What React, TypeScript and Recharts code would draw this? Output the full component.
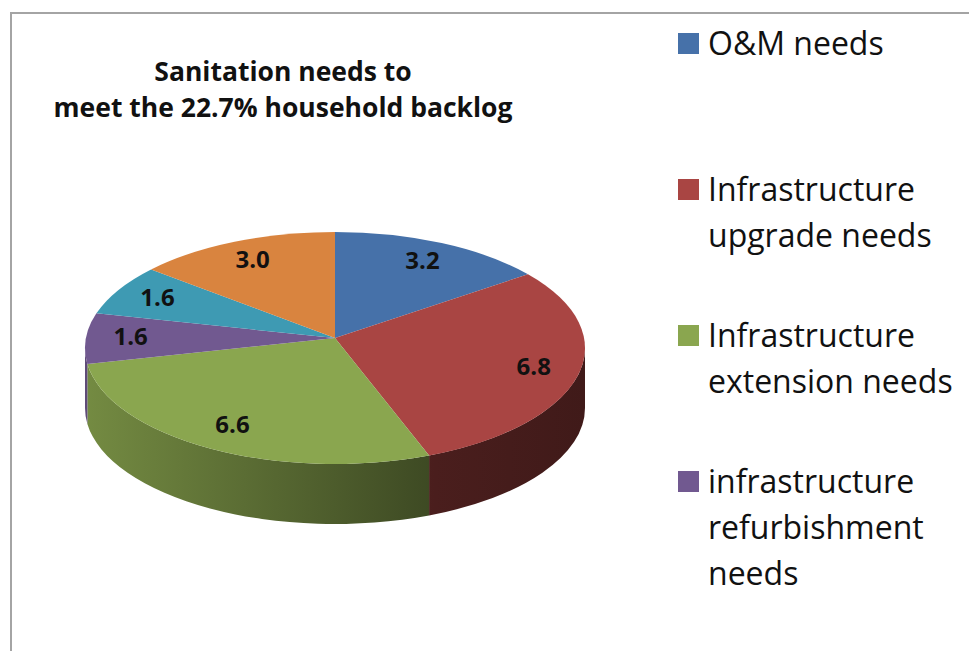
import React from 'react';
import { PieChart, Pie, Legend } from 'recharts';

const titleLines = ['Sanitation needs to', 'meet the 22.7% household backlog'];
const categories = [
  'O&M needs',
  'Infrastructure upgrade needs',
  'Infrastructure extension needs',
  'infrastructure refurbishment needs',
  'Series 5',
  'Series 6',
];
const values = [3.2, 6.8, 6.6, 1.6, 1.6, 3.0];
const colors = ['#4671A9', '#A94543', '#8AA64F', '#715990', '#3E9AB3', '#D9843F'];
const legendCount = 4;

const chartData = categories.map((name, i) => ({ name, value: values[i] }));

const TILT = 0.464;
const DEPTH = 60;
const APEX_LIFT = 10;
const FONT = '"Open Sans", "Noto Sans", sans-serif';

function shade(hex: string, k: number) {
  const n = parseInt(hex.slice(1), 16);
  const r = Math.round(((n >> 16) & 255) * k);
  const g = Math.round(((n >> 8) & 255) * k);
  const b = Math.round((n & 255) * k);
  return `rgb(${r},${g},${b})`;
}

const render3D = (props: any) => {
  const { cx, cy, outerRadius, startAngle, endAngle, index } = props;
  const rx = outerRadius;
  const ry = outerRadius * TILT;
  const pt = (deg: number, dy = 0) => {
    const r = (deg * Math.PI) / 180;
    return [cx + rx * Math.cos(r), cy - ry * Math.sin(r) + dy];
  };
  const s = Math.max(startAngle, endAngle);
  const e = Math.min(startAngle, endAngle);
  const large = s - e > 180 ? 1 : 0;
  const p1 = pt(s);
  const p2 = pt(e);
  const top = `M${cx},${cy - APEX_LIFT} L${p1[0]},${p1[1]} A${rx},${ry} 0 ${large} 1 ${p2[0]},${p2[1]} Z`;
  const a = Math.max(e, -180);
  const b = Math.min(s, 0);
  const color = colors[index];
  const gid = `side-grad-${index}`;
  let side: React.ReactNode = null;
  if (b > a) {
    const q1 = pt(b);
    const q2 = pt(a);
    const q3 = pt(a, DEPTH);
    const q4 = pt(b, DEPTH);
    const d = `M${q1[0]},${q1[1]} A${rx},${ry} 0 0 1 ${q2[0]},${q2[1]} L${q3[0]},${q3[1]} A${rx},${ry} 0 0 0 ${q4[0]},${q4[1]} Z`;
    side = <path d={d} fill={`url(#${gid})`} stroke="none" />;
  }
  return (
    <g key={`slice-${index}`}>
      <defs>
        <linearGradient id={gid} gradientUnits="userSpaceOnUse" x1={cx - rx} x2={cx + rx} y1={0} y2={0}>
          <stop offset="0" stopColor={shade(color, 0.84)} />
          <stop offset="0.7" stopColor={shade(color, 0.44)} />
          <stop offset="1" stopColor={shade(color, 0.38)} />
        </linearGradient>
      </defs>
      {side}
      <path d={top} fill={color} stroke="none" />
    </g>
  );
};

const renderValueLabel = (props: any) => {
  const { cx, cy, outerRadius, midAngle, index } = props;
  const r = (midAngle * Math.PI) / 180;
  const x = cx + 0.82 * outerRadius * Math.cos(r);
  const y = cy - APEX_LIFT / 2 - 0.8 * outerRadius * TILT * Math.sin(r);
  return (
    <text
      key={`lbl-${index}`}
      x={x}
      y={y}
      textAnchor="middle"
      dominantBaseline="central"
      fontFamily={FONT}
      fontWeight="bold"
      fontSize={24}
      fill="#111"
    >
      {values[index].toFixed(1)}
    </text>
  );
};

const renderLegend = () => (
  <div style={{ fontFamily: FONT }}>
    {categories.slice(0, legendCount).map((name, i) => (
      <div key={name} style={{ position: 'relative', height: 146 }}>
        <div
          style={{
            position: 'absolute',
            left: 0,
            top: 13,
            width: 21,
            height: 21,
            background: colors[i],
          }}
        />
        <div
          style={{
            position: 'absolute',
            left: 30,
            top: 0,
            width: 266,
            fontSize: 32,
            lineHeight: '46px',
            color: '#111',
          }}
        >
          {name}
        </div>
      </div>
    ))}
  </div>
);

export default function App() {
  return (
    <div
      style={{
        position: 'absolute',
        left: 0,
        top: 0,
        width: 969,
        height: 651,
        background: '#fff',
        overflow: 'hidden',
      }}
    >
      <div
        style={{
          position: 'absolute',
          left: 10,
          top: 12,
          width: 1000,
          height: 700,
          borderLeft: '2px solid #A4A4A4',
          borderTop: '2px solid #A4A4A4',
        }}
      />
      <div
        style={{
          position: 'absolute',
          left: 0,
          top: 53,
          width: 566,
          textAlign: 'center',
          fontFamily: FONT,
          fontWeight: 'bold',
          fontSize: 26.5,
          lineHeight: '36px',
          color: '#111',
        }}
      >
        {titleLines.map((t) => (
          <div key={t}>{t}</div>
        ))}
      </div>
      <div style={{ position: 'absolute', left: 0, top: 0 }}>
        <PieChart width={969} height={651} margin={{ top: 0, right: 0, bottom: 0, left: 0 }}>
          <Pie
            data={chartData}
            dataKey="value"
            nameKey="name"
            cx={335}
            cy={348}
            outerRadius={250}
            startAngle={90}
            endAngle={-270}
            fill="transparent"
            stroke="none"
            label={render3D}
            labelLine={false}
            isAnimationActive={false}
          />
          <Pie
            data={chartData}
            dataKey="value"
            nameKey="name"
            cx={335}
            cy={348}
            outerRadius={250}
            startAngle={90}
            endAngle={-270}
            fill="transparent"
            stroke="none"
            label={renderValueLabel}
            labelLine={false}
            isAnimationActive={false}
          />
          <Legend
            layout="vertical"
            align="right"
            verticalAlign="top"
            content={renderLegend}
            wrapperStyle={{ position: 'absolute', left: 678, top: 20, width: 290, right: 'auto' }}
          />
        </PieChart>
      </div>
    </div>
  );
}
